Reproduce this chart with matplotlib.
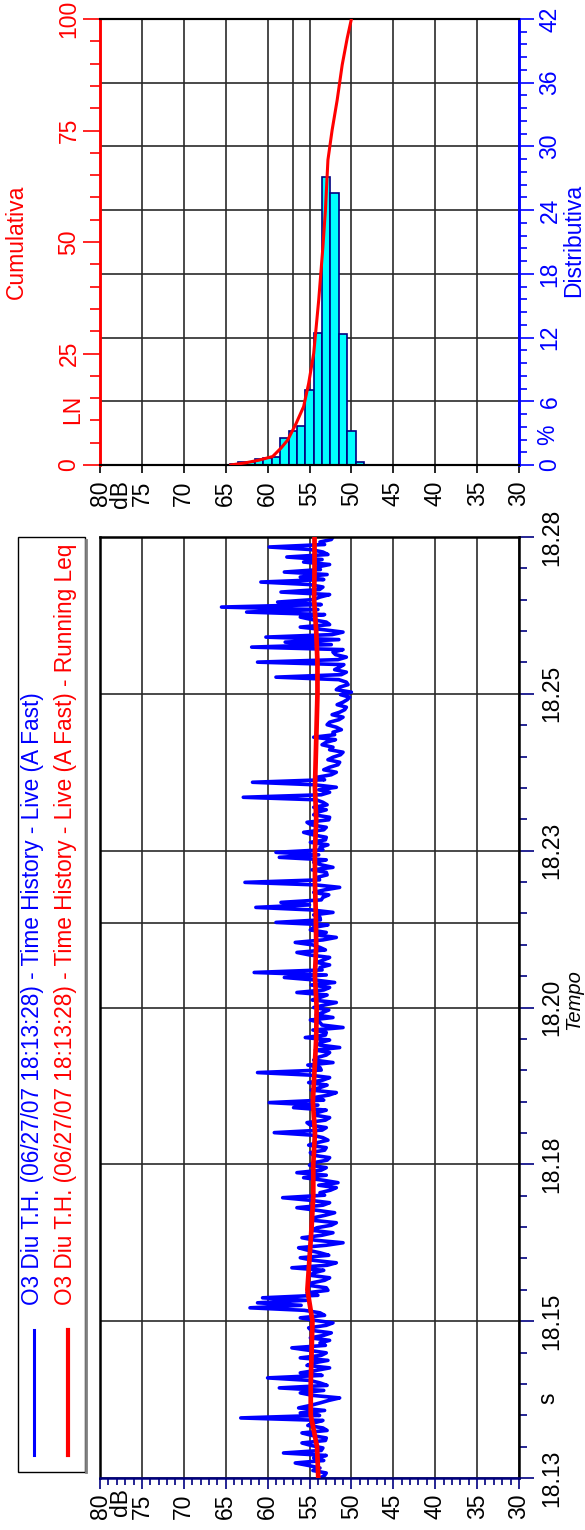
import numpy as np
import matplotlib
matplotlib.use("Agg")
from matplotlib import pyplot as plt
from matplotlib.patches import Rectangle
from matplotlib.lines import Line2D

plt.rcParams['font.family'] = ['Liberation Sans', 'DejaVu Sans']

""" DATI """

# distribuzione dei livelli (pannello in alto)
hist_db = [64, 63, 62, 61, 60, 59, 58, 57, 56, 55, 54, 53, 52, 51, 50, 49]
hist_pct = [0.1, 0.3, 0.3, 0.56, 0.69, 0.78, 2.5, 3.2, 3.7, 7.1, 12.4, 27.1, 25.6, 12.3, 3.2, 0.3]

# curva cumulativa LN
cum_db = [64.4, 62.6, 61.0, 59.4, 58.4, 57.6, 56.6, 55.7, 55.1, 54.5, 53.9, 53.4,
          53.1, 52.8, 52.3, 51.7, 51.1, 50.5, 50.0]
cum_pct = [0, 0.5, 1.1, 1.9, 3.8, 5.6, 9.3, 13.1, 18.3, 25.0, 37.0, 48.9,
           57.2, 68.4, 75.1, 81.8, 89.7, 95.7, 100]

# assi
db_ticks = [80, 75, 70, 65, 60, 55, 50, 45, 40, 35, 30]
db_labels = ["80", "75", "70", "65", "60", "55", "50", "45", "40", "35", "30"]
cum_ticks = [0, 25, 50, 75, 100]
dist_ticks = [0, 6, 12, 18, 24, 30, 36, 42]
time_ticks = [0, 2.5, 5, 7.5, 10, 12.5, 15]          # minuti dall'inizio
time_labels = ["18.13", "18.15", "18.18", "18.20", "18.23", "18.25", "18.28"]
marker_db = 57.0      # linea verticale extra (pannello alto)
marker_t = 8.85       # linea orizzontale extra (pannello basso)

# time history - Live (A Fast), campionamento uniforme su 15 minuti
th_live = [
    # 18.13 - 18.18
    53.75, 53.2, 53.0, 54.6, 53.75, 55.1, 56.7, 53.3, 54.5, 53.0, 58.1, 53.6, 53.4, 54.8,
    55.9, 53.1, 53.0, 54.7, 55.9, 52.9, 53.4, 55.2, 54.5, 53.4, 63.2, 53.8, 56.1, 53.2,
    56.3, 54.9, 53.75, 52.7, 51.4, 54.6, 56.1, 53.3, 58.6, 52.9, 53.75, 55.0, 60.0, 53.5,
    56.1, 54.2, 52.6, 55.3, 54.5, 52.8, 56.1, 53.6, 53.0, 55.0, 57.1, 53.1, 53.75, 52.6,
    54.9, 53.3, 52.4, 54.8, 55.1, 53.0, 52.2, 54.4, 56.1, 53.2, 53.75, 55.6, 62.1, 56.0,
    61.2, 55.4, 60.6, 54.0, 55.3, 52.8, 53.0, 55.1, 54.7, 53.2, 52.6, 54.9, 54.5, 53.3,
    57.1, 52.9, 51.8, 54.6, 56.1, 52.7, 53.75, 55.2, 56.3, 53.0, 51.0, 54.3, 55.9, 53.5,
    52.2, 54.8, 54.1, 52.4, 51.8, 54.7, 54.5, 53.1, 52.0, 54.2, 56.5, 53.4, 52.6, 55.0,
    58.2, 53.2, 53.75, 52.5, 51.8, 53.9, 51.6, 53.4, 55.7, 53.0,
    # 18.18 - 18.23
    56.5, 53.6, 53.0, 55.0, 54.5, 52.9, 52.6, 54.6, 54.9, 53.2, 53.0, 55.1, 54.1, 52.8,
    53.4, 54.7, 59.2, 53.5, 53.0, 54.9, 55.3, 53.1, 52.6, 54.4, 54.1, 53.0, 56.9, 54.0,
    59.8, 53.3, 54.5, 52.7, 51.8, 54.8, 53.75, 52.9, 55.1, 53.4, 52.6, 55.0, 61.2, 53.6,
    53.75, 55.2, 52.2, 54.5, 54.1, 53.0, 52.6, 54.3, 51.4, 53.8, 53.75, 52.6, 55.5, 53.1,
    53.0, 54.6, 51.0, 53.5, 53.75, 54.9, 52.2, 54.2, 53.4, 52.7, 54.5, 53.2, 51.8, 54.7,
    53.75, 52.9, 56.5, 53.3, 52.6, 54.8, 52.0, 54.4, 58.0, 53.0, 61.6, 53.5, 53.75, 52.6,
    54.1, 53.3, 52.6, 55.0, 56.5, 53.1, 53.75, 54.6, 56.7, 53.4, 51.8, 54.2, 53.0, 54.9,
    54.5, 52.8, 59.0, 53.7, 53.75, 54.5, 52.2, 54.8, 61.4, 55.0, 58.4, 53.6, 53.4, 52.7,
    54.5, 53.2, 51.4, 54.3, 62.7, 53.8, 54.1, 52.9, 53.0, 54.7, 52.2, 53.6, 54.5, 53.0,
    58.6, 53.9,
    # 18.23 - 18.28
    59.0, 53.4, 53.75, 52.8, 54.9, 53.1, 53.0, 54.6, 55.7, 53.3, 53.0, 54.8, 55.3, 52.7,
    52.6, 54.5, 54.1, 53.0, 54.5, 52.9, 53.4, 54.2, 62.9, 53.6, 52.6, 53.9, 51.8, 54.4,
    61.8, 53.2, 54.1, 52.4, 51.8, 53.3, 52.6, 51.6, 51.4, 52.8, 52.2, 51.3, 51.0, 52.6,
    52.2, 53.5, 53.0, 51.9, 54.5, 52.0, 52.2, 51.2, 51.8, 52.9, 52.6, 51.5, 51.0, 52.3,
    51.4, 50.8, 50.6, 51.7, 51.0, 50.5, 50.2, 51.3, 50.0, 51.8, 51.4, 50.4, 50.6, 51.5,
    59.0, 51.2, 50.6, 52.0, 51.4, 50.9, 61.2, 51.6, 50.6, 51.9, 52.2, 51.0, 61.9, 52.4,
    57.9, 51.5, 60.2, 52.3, 51.0, 53.4, 56.1, 52.6, 53.0, 54.7, 56.1, 53.2, 62.5, 54.0,
    65.5, 53.6, 58.8, 54.5, 53.75, 52.6, 58.4, 53.8, 53.4, 55.0, 60.8, 53.3, 56.1, 52.9,
    58.0, 53.7, 54.1, 52.6, 55.7, 53.5, 57.7, 52.8, 53.4, 54.9, 59.8, 53.2, 53.75, 52.4,
    52.2,
]

# Running Leq, un valore ogni 30 s
th_leq = [53.95, 54.1, 54.85, 54.85, 54.75, 54.65, 55.25, 55.0, 54.75, 54.55, 54.55,
          54.35, 54.6, 54.4, 54.2, 54.15, 54.35, 54.2, 54.25, 54.35, 54.35, 54.2,
          54.35, 54.25, 54.15, 54.05, 54.05, 54.2, 54.45, 54.4, 54.4]

t_live = np.linspace(0, 15, len(th_live))
t_leq = np.linspace(0, 15, len(th_leq))

""" FIGURA """

W, H = 585, 1530
fig = plt.figure(figsize=(W / 100, H / 100), dpi=100, facecolor='white')


def fx(px):
    return px / W


def fy(py):
    return 1 - py / H


blue = '#0000FF'
red = '#FF0000'
navy = '#000080'
grid_col = '#2a2a2a'
fs = 16.5

'''
Pannello alto: distribuzione + cumulativa
'''
ax_d = fig.add_axes([fx(100), fy(465), fx(519) - fx(100), fy(19) - fy(465)])
ax_c = ax_d.twinx()

ax_d.set_xlim(80, 30)
ax_d.set_ylim(0, 42)
ax_c.set_ylim(0, 100)
ax_d.set_axisbelow(True)

ax_d.bar(hist_db, hist_pct, width=1.0, color='#00FFFF', edgecolor=navy, linewidth=1.2, zorder=2)
ax_c.plot(cum_db, cum_pct, color=red, lw=2.2, zorder=3)

ax_d.grid(True, color=grid_col, lw=1.2)
ax_d.axvline(marker_db, color=grid_col, lw=1.2, zorder=1)

ax_d.set_xticks(db_ticks)
ax_d.set_xticklabels(db_labels, rotation=90)
ax_d.tick_params(axis='x', length=6, width=1.2, color='black', pad=5, labelsize=fs)

ax_d.yaxis.tick_right()
ax_d.set_yticks(dist_ticks)
ax_d.set_yticks(np.arange(0, 42.01, 1.2), minor=True)
ax_d.set_yticklabels([str(v) for v in dist_ticks], rotation=90, va='center')
ax_d.tick_params(axis='y', which='major', length=11, width=1.2, color=blue,
                 labelcolor=blue, pad=3, labelsize=fs)
ax_d.tick_params(axis='y', which='minor', length=6, width=1.2, color=blue)

ax_c.yaxis.tick_left()
ax_c.set_yticks(cum_ticks)
ax_c.set_yticks(np.arange(0, 101, 5), minor=True)
ax_c.set_yticklabels([str(v) for v in cum_ticks], rotation=90, va='center')
ax_c.tick_params(axis='y', which='major', length=12, width=1.2, color=red,
                 labelcolor=red, pad=2, labelsize=fs)
ax_c.tick_params(axis='y', which='minor', length=7, width=1.2, color=red)

for a in (ax_d, ax_c):
    a.spines['top'].set_linewidth(1.5)
    a.spines['bottom'].set_linewidth(1.5)
    a.spines['left'].set_color(red)
    a.spines['left'].set_linewidth(1.8)
    a.spines['right'].set_color(blue)
    a.spines['right'].set_linewidth(1.8)

fig.text(fx(16), fy(242), "Cumulativa", rotation=90, ha='center', va='center', color=red, fontsize=16.5)
fig.text(fx(574), fy(240), "Distributiva", rotation=90, ha='center', va='center', color=blue, fontsize=16.5)
fig.text(fx(73), fy(409), "LN", rotation=90, ha='center', va='center', color=red, fontsize=fs)
fig.text(fx(548), fy(435), "%", rotation=90, ha='center', va='center', color=blue, fontsize=fs)
fig.text(fx(120), fy(480), "dB", rotation=90, ha='center', va='top', fontsize=fs)

'''
Pannello basso: time history
'''
ax_t = fig.add_axes([fx(100), fy(1478), fx(519) - fx(100), fy(537) - fy(1478)])
ax_t.set_xlim(80, 30)
ax_t.set_ylim(0, 15)
ax_t.set_axisbelow(True)

ax_t.plot(th_live, t_live, color=blue, lw=2.6, zorder=2)
ax_t.plot(th_leq, t_leq, color=red, lw=3.4, zorder=3)

ax_t.grid(True, color=grid_col, lw=1.2)
ax_t.axhline(marker_t, color=grid_col, lw=1.2, zorder=1)

ax_t.set_xticks(db_ticks)
ax_t.set_xticks(np.arange(30, 81, 1), minor=True)
ax_t.set_xticklabels(db_labels, rotation=90)
ax_t.tick_params(axis='x', which='major', length=8, width=1.2, color=navy, pad=3, labelsize=fs)
ax_t.tick_params(axis='x', which='minor', length=5, width=1.2, color=navy)

ax_t.yaxis.tick_right()
ax_t.set_yticks(time_ticks)
ax_t.set_yticks(np.arange(0, 15.01, 0.5), minor=True)
ax_t.set_yticklabels(time_labels, rotation=90, va='center')
ax_t.tick_params(axis='y', which='major', length=11, width=1.2, color=navy, pad=4, labelsize=fs)
ax_t.tick_params(axis='y', which='minor', length=6, width=1.2, color=navy)

for s in ax_t.spines.values():
    s.set_linewidth(1.8)
ax_t.spines['bottom'].set_color(navy)

fig.text(fx(120), fy(1488), "dB", rotation=90, ha='center', va='top', fontsize=fs)
fig.text(fx(548), fy(1398), "s", rotation=90, ha='center', va='center', fontsize=fs)
fig.text(fx(574), fy(1000), "Tempo", rotation=90, ha='center', va='center', fontsize=14.5, style='italic')

'''
Legenda
'''
fig.add_artist(Rectangle((fx(18), fy(1472)), fx(85) - fx(18), fy(537) - fy(1472),
                         transform=fig.transFigure, fill=False, ec='black', lw=1.0))
fig.add_artist(Line2D([fx(86), fx(86)], [fy(540), fy(1472)], transform=fig.transFigure,
                      color='#808080', lw=2))
fig.add_artist(Line2D([fx(34), fx(34)], [fy(1330), fy(1455)], transform=fig.transFigure,
                      color=blue, lw=2.2))
fig.add_artist(Line2D([fx(68), fx(68)], [fy(1330), fy(1455)], transform=fig.transFigure,
                      color=red, lw=3.0))
fig.text(fx(33), fy(1305), "O3 Diu T.H. (06/27/07 18:13:28) - Time History - Live (A Fast)",
         rotation=90, ha='center', va='bottom', color=blue, fontsize=16.3)
fig.text(fx(66), fy(1305), "O3 Diu T.H. (06/27/07 18:13:28) - Time History - Live (A Fast) - Running Leq",
         rotation=90, ha='center', va='bottom', color=red, fontsize=16.3)

fig.savefig("out.png", dpi=100, facecolor='white')
